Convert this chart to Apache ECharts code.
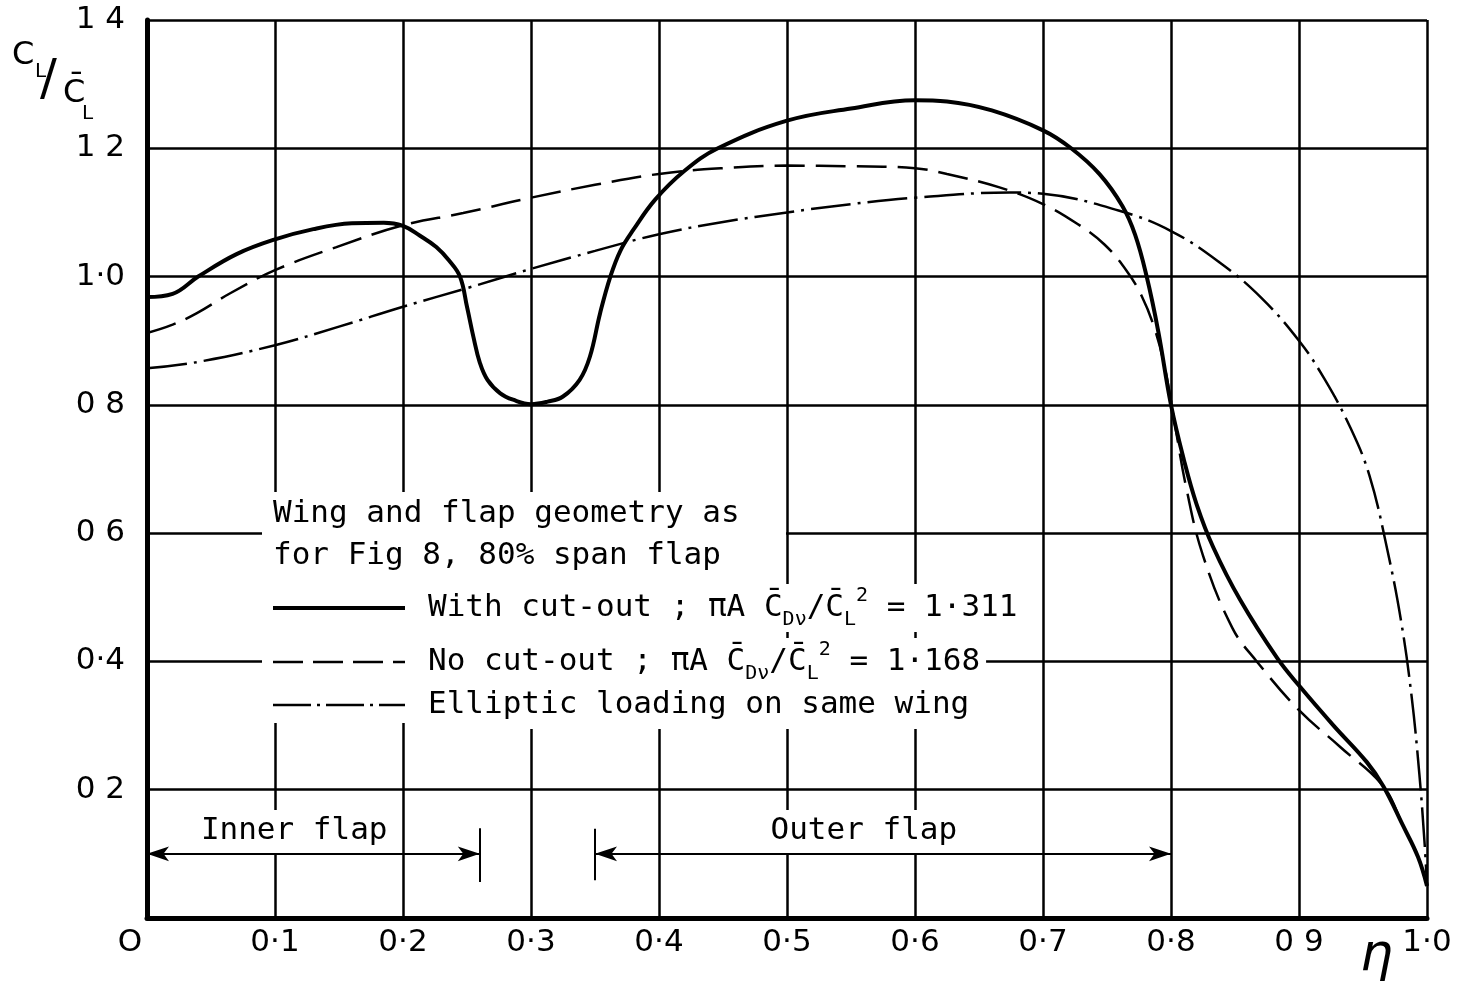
<!DOCTYPE html>
<html>
<head>
<meta charset="utf-8">
<script src="https://cdn.jsdelivr.net/npm/echarts@6/dist/echarts.min.js"></script>
<style>
  html, body { margin: 0; padding: 0; background: #fff; }
  #main { width: 1463px; height: 981px; }
</style>
</head>
<body>
<div id="main"></div>
<script>
// spanwise station (eta) and local CL / mean CL
const cutEta = [0, 0.02, 0.04, 0.07, 0.1, 0.13, 0.16, 0.185, 0.2, 0.213, 0.226, 0.236, 0.2445, 0.25, 0.255,
  0.26, 0.266, 0.276, 0.286, 0.3, 0.313, 0.325, 0.338, 0.346, 0.354, 0.362, 0.37, 0.38, 0.397, 0.42,
  0.446, 0.5, 0.55, 0.6, 0.625, 0.66, 0.7, 0.722, 0.744, 0.762, 0.772, 0.781, 0.79, 0.8, 0.81, 0.82,
  0.833, 0.854, 0.883, 0.901, 0.927, 0.953, 0.966, 0.981, 0.993, 1.0];
const cutCl = [0.968, 0.973, 1.0, 1.035, 1.058, 1.074, 1.083, 1.084, 1.079, 1.064, 1.046, 1.025, 1.0, 0.953, 0.906,
  0.866, 0.839, 0.818, 0.808, 0.801, 0.805, 0.813, 0.839, 0.875, 0.943, 1.0, 1.041, 1.073, 1.12, 1.165,
  1.2, 1.243, 1.262, 1.275, 1.273, 1.259, 1.228, 1.2, 1.16, 1.11, 1.065, 1.0, 0.915, 0.8, 0.715, 0.645,
  0.578, 0.496, 0.405, 0.36, 0.3, 0.243, 0.205, 0.145, 0.095, 0.05];

const noCutEta = [0, 0.02, 0.039, 0.065, 0.1, 0.148, 0.2, 0.247, 0.3, 0.35, 0.4, 0.45, 0.5, 0.55, 0.6, 0.625,
  0.666, 0.7, 0.727, 0.748, 0.765, 0.777, 0.787, 0.795, 0.803, 0.812, 0.825, 0.848, 0.867, 0.9, 0.932, 0.966,
  0.981, 0.993, 1.0];
const noCutCl = [0.912, 0.925, 0.943, 0.974, 1.01, 1.046, 1.08, 1.099, 1.123, 1.143, 1.16, 1.169, 1.173, 1.172, 1.169, 1.16,
  1.139, 1.113, 1.082, 1.05, 1.01, 0.97, 0.92, 0.86, 0.77, 0.67, 0.565, 0.452, 0.4, 0.324, 0.267, 0.205,
  0.145, 0.095, 0.05];

const ellEta = [0, 0.04, 0.1, 0.15, 0.2, 0.25, 0.3, 0.35, 0.4, 0.45, 0.5, 0.55, 0.6, 0.674, 0.7, 0.759, 0.8,
  0.838, 0.87, 0.9, 0.92, 0.94, 0.955, 0.969, 0.98, 0.988, 0.994, 0.998, 1.0];
const ellCl = [0.857, 0.867, 0.893, 0.922, 0.953, 0.982, 1.012, 1.04, 1.066, 1.085, 1.1, 1.113, 1.123, 1.131, 1.129, 1.103, 1.071,
  1.022, 0.968, 0.9, 0.84, 0.765, 0.69, 0.574, 0.46, 0.345, 0.225, 0.12, 0.05];

// flap extents along the span
const innerFlap = [0, 0.26];
const outerFlap = [0.35, 0.8];
const flapLevel = 0.1;

const xTickLabels = ['O', '0·1', '0·2', '0·3', '0·4', '0·5', '0·6', '0·7', '0·8', '0 9', '1·0'];
const yTickLabels = ['', '0 2', '0·4', '0 6', '0 8', '1·0', '1 2', '1 4'];

const SANS = "'DejaVu Sans', sans-serif";
const MONO = "'DejaVu Sans Mono', monospace";
const INK = '#000';

function pairs(xs, ys) {
  return xs.map((x, i) => [x, ys[i]]);
}

const chart = echarts.init(document.getElementById('main'));

const formulaRich = {
  t: { fontFamily: MONO, fontSize: 31, fill: INK, color: INK },
  sub: { fontFamily: MONO, fontSize: 20, fill: INK, color: INK, verticalAlign: 'bottom', lineHeight: 22 },
  sup: { fontFamily: MONO, fontSize: 20, fill: INK, color: INK, verticalAlign: 'top', lineHeight: 22 }
};

function rowText(y, text, withRich) {
  return {
    type: 'text', z: 102, x: 428, y: y,
    style: {
      text: text, fontFamily: MONO, fontSize: 31, fill: INK,
      textVerticalAlign: 'middle', verticalAlign: 'middle',
      backgroundColor: '#fff', padding: [2, 6, 2, 0],
      lineHeight: 44,
      rich: withRich ? formulaRich : undefined
    }
  };
}

function label(x, y, text, size) {
  return { type: 'text', z: 102, x: x, y: y, style: { text: text, fontFamily: SANS, fontSize: size, fill: INK } };
}

const option = {
  animation: false,
  backgroundColor: '#fff',
  grid: { left: 147, right: 36, top: 20, bottom: 63 },
  xAxis: {
    type: 'value', min: 0, max: 1, interval: 0.1,
    axisLine: { show: true, lineStyle: { color: INK, width: 5 } },
    axisTick: { show: false },
    splitLine: { show: true, lineStyle: { color: INK, width: 2.5 } },
    axisLabel: {
      margin: 9, color: INK, fontFamily: SANS, fontSize: 31,
      formatter: (v) => {
        const i = Math.round(v * 10);
        return i === 0 ? '{o|' + xTickLabels[0] + '}' : xTickLabels[i];
      },
      rich: { o: { fontFamily: SANS, fontSize: 31, color: INK, padding: [0, 34, 0, 0] } }
    }
  },
  yAxis: {
    type: 'value', min: 0, max: 1.4, interval: 0.2,
    axisLine: { show: true, lineStyle: { color: INK, width: 5 } },
    axisTick: { show: false },
    splitLine: { show: true, lineStyle: { color: INK, width: 2.5 } },
    axisLabel: {
      margin: 22, color: INK, fontFamily: SANS, fontSize: 31,
      formatter: (v) => yTickLabels[Math.round(v / 0.2)]
    }
  },
  series: [
    {
      name: 'With cut-out', type: 'line', data: pairs(cutEta, cutCl),
      smooth: 0.4, symbol: 'none', z: 5,
      lineStyle: { color: INK, width: 4 }
    },
    {
      name: 'No cut-out', type: 'line', data: pairs(noCutEta, noCutCl),
      smooth: 0.4, symbol: 'none', z: 4,
      lineStyle: { color: INK, width: 2.5, type: [30, 11] }
    },
    {
      name: 'Elliptic loading', type: 'line', data: pairs(ellEta, ellCl),
      smooth: 0.4, symbol: 'none', z: 4,
      lineStyle: { color: INK, width: 2.5, type: [40, 7, 3, 7] }
    },
    {
      name: 'flaps', type: 'line', data: [], z: 6,
      markLine: {
        silent: true, animation: false,
        symbol: ['arrow', 'arrow'], symbolSize: [11, 22],
        lineStyle: { color: INK, width: 2, type: 'solid' },
        label: { show: false },
        data: [
          [{ coord: [innerFlap[0], flapLevel] }, { coord: [innerFlap[1], flapLevel] }],
          [{ coord: [outerFlap[0], flapLevel] }, { coord: [outerFlap[1], flapLevel] }],
          [{ coord: [innerFlap[1], 0.14], symbol: 'none' }, { coord: [innerFlap[1], 0.056], symbol: 'none' }],
          [{ coord: [outerFlap[0], 0.139], symbol: 'none' }, { coord: [outerFlap[0], 0.059], symbol: 'none' }]
        ]
      },
      markPoint: {
        silent: true, symbol: 'rect', symbolSize: 1,
        itemStyle: { color: 'rgba(0,0,0,0)' },
        label: {
          show: true, position: 'inside', color: INK, fontFamily: MONO, fontSize: 31,
          backgroundColor: '#fff', padding: [6, 8],
          formatter: (p) => p.name
        },
        data: [
          { name: 'Inner flap', coord: [0.115, 0.135] },
          { name: 'Outer flap', coord: [0.56, 0.135] }
        ]
      }
    }
  ],
  graphic: [
    // y-axis title  C_L / C̄_L
    label(12, 40, 'C', 32),
    label(35, 62, 'L', 20),
    label(40, 56, '/', 50),
    label(63, 78, 'C\u0304', 32),
    label(82, 104, 'L', 20),
    // x-axis symbol
    { type: 'text', z: 102, x: 1360, y: 930, style: { text: '\u03b7', fontFamily: SANS, fontSize: 52, fontStyle: 'italic', fill: INK } },

    // key block
    { type: 'rect', z: 100, shape: { x: 262, y: 492, width: 524, height: 231 }, style: { fill: '#fff' } },
    {
      type: 'text', z: 102, x: 273, y: 514,
      style: { text: 'Wing and flap geometry as', fontFamily: MONO, fontSize: 31, fill: INK, textVerticalAlign: 'middle', verticalAlign: 'middle' }
    },
    {
      type: 'text', z: 102, x: 273, y: 556,
      style: { text: 'for Fig 8, 80% span flap', fontFamily: MONO, fontSize: 31, fill: INK, textVerticalAlign: 'middle', verticalAlign: 'middle' }
    },
    { type: 'line', z: 102, shape: { x1: 273, y1: 608, x2: 405, y2: 608 }, style: { stroke: INK, lineWidth: 4 } },
    { type: 'line', z: 102, shape: { x1: 273, y1: 662, x2: 405, y2: 662 }, style: { stroke: INK, lineWidth: 2.5, lineDash: [30, 10] } },
    { type: 'line', z: 102, shape: { x1: 273, y1: 705, x2: 405, y2: 705 }, style: { stroke: INK, lineWidth: 2.5, lineDash: [38, 6, 3, 6] } },
    rowText(608, '{t|With cut-out ; \u03c0A C\u0304}{sub|D\u03bd}{t|/C\u0304}{sub|L}{sup|2}{t| = 1\u00b7311}', true),
    rowText(662, '{t|No cut-out ; \u03c0A C\u0304}{sub|D\u03bd}{t|/C\u0304}{sub|L}{sup|2}{t| = 1\u00b7168}', true),
    rowText(705, 'Elliptic loading on same wing', false)
  ]
};

chart.setOption(option);
</script>
</body>
</html>
